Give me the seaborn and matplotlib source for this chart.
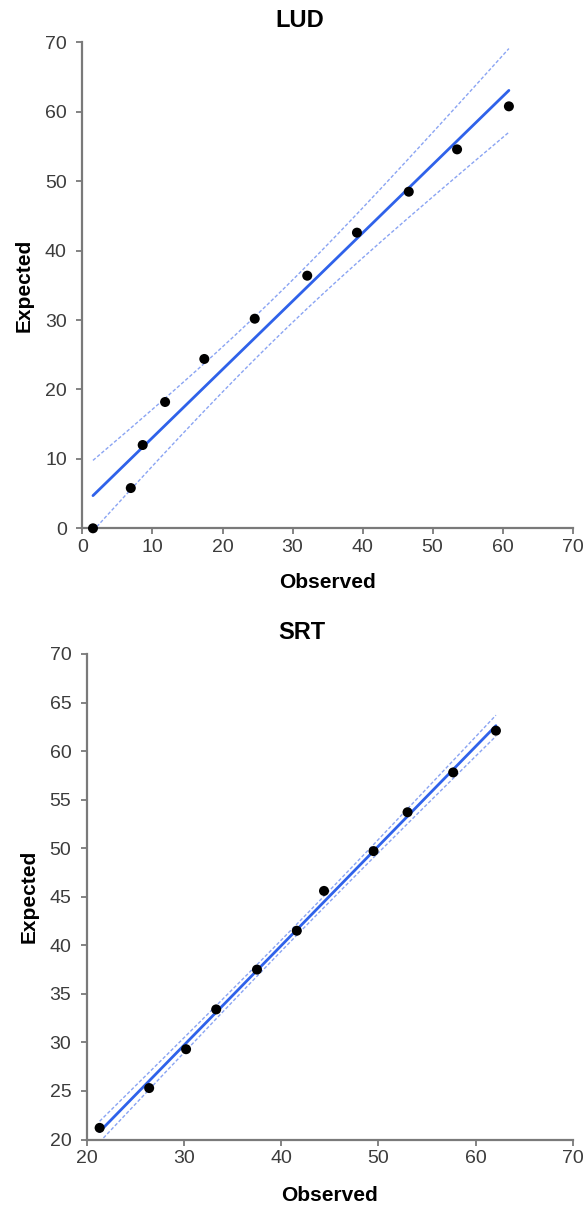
import numpy as np
import pandas as pd
import matplotlib
matplotlib.use("Agg")
import matplotlib.pyplot as plt
import seaborn as sns

# values
lud_observed = [1.5, 6.9, 8.6, 11.8, 17.4, 24.6, 32.1, 39.2, 46.6, 53.5, 60.9]
lud_expected = [0.0, 5.8, 12.0, 18.2, 24.4, 30.2, 36.4, 42.6, 48.5, 54.6, 60.8]
srt_observed = [21.3, 26.4, 30.2, 33.3, 37.5, 41.6, 44.4, 49.5, 53.0, 57.7, 62.1]
srt_expected = [21.2, 25.3, 29.3, 33.4, 37.5, 41.5, 45.6, 49.7, 53.7, 57.8, 62.1]

lud_ticks_x = list(range(0, 71, 10))
lud_ticks_y = list(range(0, 71, 10))
srt_ticks_x = list(range(20, 71, 10))
srt_ticks_y = list(range(20, 71, 5))

T_CRIT = 3.25  # two-sided 99%, df = 9

LINE_BLUE = "#2f62ea"
BAND_BLUE = "#8aa4f3"
AXIS_GREY = "#7a7a7a"
TEXT_GREY = "#3c3c3c"


def fit_band(x, y, t=T_CRIT):
    """Confidence band of the least squares line."""
    x = np.asarray(x, float)
    y = np.asarray(y, float)
    slope, icpt = np.polyfit(x, y, 1)
    resid = y - (icpt + slope * x)
    s = np.sqrt(np.sum(resid ** 2) / (len(x) - 2))
    sxx = np.sum((x - x.mean()) ** 2)
    grid = np.linspace(x.min(), x.max(), 200)
    half = t * s * np.sqrt(1 / len(x) + (grid - x.mean()) ** 2 / sxx)
    fit = icpt + slope * grid
    return grid, fit - half, fit + half


def draw_panel(ax, obs, exp, title, xticks, yticks, title_x):
    df = pd.DataFrame({"Observed": obs, "Expected": exp})
    sns.regplot(data=df, x="Observed", y="Expected", ax=ax, ci=None, truncate=True,
                color="black",
                scatter_kws=dict(s=52, alpha=1, zorder=4, clip_on=False, edgecolor="none"),
                line_kws=dict(color=LINE_BLUE, lw=2.0, zorder=3))

    grid, lower, upper = fit_band(obs, exp)
    for edge in (lower, upper):
        ax.plot(grid, edge, color=BAND_BLUE, lw=1.0, ls=(0, (2.5, 1.5)), zorder=2)

    ax.set_xlim(xticks[0], xticks[-1])
    ax.set_ylim(yticks[0], yticks[-1])
    ax.set_xticks(xticks)
    ax.set_yticks(yticks)

    sns.despine(ax=ax)
    for side in ("left", "bottom"):
        ax.spines[side].set_color(AXIS_GREY)
        ax.spines[side].set_linewidth(1.6)
    ax.tick_params(axis="both", direction="out", length=4.3, width=1.3,
                   color=AXIS_GREY, labelsize=14, labelcolor=TEXT_GREY)
    ax.tick_params(axis="y", pad=7)
    ax.tick_params(axis="x", pad=3.5)

    ax.set_xlabel("Observed", fontsize=15, fontweight="bold", color="black")
    ax.set_ylabel("Expected", fontsize=15, fontweight="bold", color="black")
    ax.xaxis.label.set_va("center")
    ax.yaxis.label.set_va("center")

    ax.text(title_x, 1.045, title, transform=ax.transAxes, ha="center", va="center",
            fontsize=17, fontweight="bold", color="black")


sns.set_theme(style="ticks")
plt.rcParams["font.family"] = ["Liberation Sans", "DejaVu Sans"]

fig = plt.figure(figsize=(5.87, 12.07), dpi=100)
fig.patch.set_facecolor("white")

ax1 = fig.add_axes([0.1405, 0.5623, 0.835, 0.4025])
draw_panel(ax1, lud_observed, lud_expected, "LUD", lud_ticks_x, lud_ticks_y, 0.444)
ax1.xaxis.set_label_coords(0.5, -0.1125)
ax1.yaxis.set_label_coords(-0.12, 0.5)

ax2 = fig.add_axes([0.1482, 0.0559, 0.8274, 0.4023])
draw_panel(ax2, srt_observed, srt_expected, "SRT", srt_ticks_x, srt_ticks_y, 0.442)
ax2.xaxis.set_label_coords(0.5, -0.1144)
ax2.yaxis.set_label_coords(-0.12, 0.5)

fig.savefig("out.png", dpi=100, facecolor="white")
